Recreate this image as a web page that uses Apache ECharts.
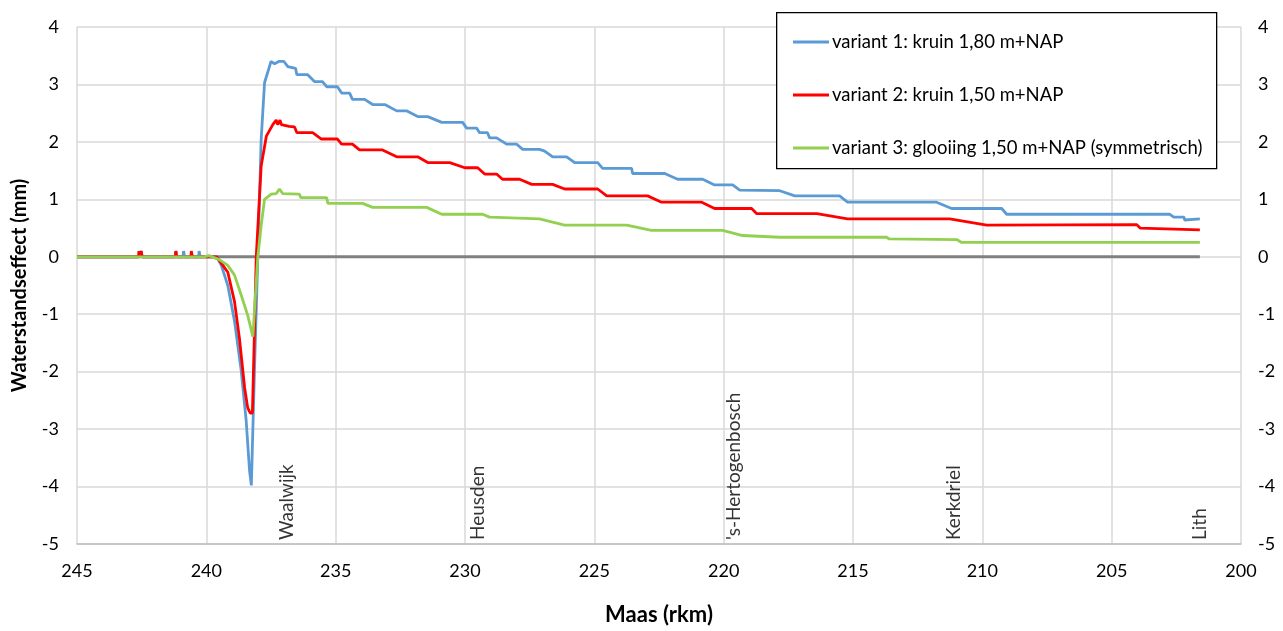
<!DOCTYPE html>
<html>
<head>
<meta charset="utf-8">
<script src="https://cdn.jsdelivr.net/npm/echarts@6/dist/echarts.min.js"></script>
<style>
html,body{margin:0;padding:0;background:#fff;}
#chart{width:1283px;height:631px;}
</style>
</head>
<body>
<div id="chart"></div>
<script>
// ---- data (rkm, waterstandseffect mm) ----
const seriesNames = [
  'variant 1: kruin 1,80 m+NAP',
  'variant 2: kruin 1,50 m+NAP',
  'variant 3: glooiing 1,50 m+NAP (symmetrisch)'
];
const variant1 = [
  [245,0],[242.62,0],[242.6,0.1],[242.56,0],[242.52,0.1],[242.48,0],
  [241.2,0],[241.18,0.1],[241.14,0],[240.9,0],[240.88,0.1],[240.84,0],[240.3,0],[240.28,0.1],[240.24,0],
  [239.6,0],[239.42,-0.15],[239.17,-0.5],[238.91,-1.12],[238.65,-1.99],[238.46,-2.85],[238.33,-3.72],[238.26,-3.98],
  [238.14,-1.99],[238.01,0],[237.88,2.04],[237.75,3.03],[237.56,3.31],[237.5,3.4],[237.36,3.36],[237.2,3.4],[237.0,3.4],
  [236.85,3.31],[236.78,3.28],[236.55,3.28],[236.5,3.17],[236.08,3.17],[235.82,3.05],[235.51,3.05],
  [235.35,2.96],[234.93,2.96],[234.77,2.85],[234.46,2.85],[234.35,2.74],[233.88,2.74],[233.57,2.65],[233.1,2.65],
  [232.64,2.54],[232.26,2.54],[231.83,2.44],[231.44,2.44],[230.9,2.34],[230.09,2.34],[229.94,2.24],[229.55,2.24],
  [229.44,2.16],[229.13,2.16],[229.05,2.07],[228.78,2.07],[228.39,1.96],[228.0,1.96],[227.77,1.87],[227.12,1.87],[226.92,1.84],
  [226.61,1.74],[226.07,1.74],[225.76,1.64],[224.87,1.64],[224.68,1.54],[223.56,1.54],[223.52,1.45],[222.28,1.45],
  [221.78,1.35],[220.81,1.35],[220.35,1.25],[219.65,1.25],[219.38,1.16],[217.83,1.15],[217.25,1.06],[215.52,1.06],
  [215.21,0.95],[211.77,0.95],[211.19,0.84],[209.25,0.84],[209.06,0.74],[202.75,0.74],[202.6,0.69],[202.2,0.69],[202.18,0.64],[201.59,0.66]
];
const variant2 = [
  [245,0],[242.62,0],[242.6,0.1],[242.56,0],[242.52,0.1],[242.48,0],
  [241.2,0],[241.18,0.1],[241.14,0],[240.6,0],[240.58,0.1],[240.54,0],
  [239.6,0],[239.36,-0.15],[239.17,-0.27],[238.91,-0.78],[238.72,-1.42],[238.52,-2.28],[238.4,-2.63],[238.3,-2.72],[238.22,-2.72],
  [238.2,-2.4],[238.07,0],[237.88,1.58],[237.68,2.1],[237.43,2.3],[237.3,2.38],[237.24,2.3],[237.15,2.38],[237.1,2.3],[236.8,2.27],
  [236.59,2.26],[236.5,2.16],[235.89,2.16],[235.55,2.05],[234.93,2.05],[234.77,1.96],[234.35,1.96],[234.08,1.86],[233.19,1.86],
  [232.64,1.74],[231.83,1.74],[231.44,1.64],[230.59,1.64],[230.01,1.55],[229.51,1.55],[229.24,1.44],[228.78,1.44],
  [228.55,1.35],[227.89,1.35],[227.42,1.26],[226.61,1.26],[226.15,1.18],[224.87,1.18],[224.52,1.06],[222.94,1.06],
  [222.4,0.95],[220.85,0.95],[220.35,0.84],[218.92,0.84],[218.72,0.75],[216.4,0.75],[215.21,0.66],[211.26,0.66],
  [209.83,0.55],[204.03,0.56],[203.9,0.5],[201.59,0.47]
];
const variant3 = [
  [245,0],[240.1,0],[239.9,0.02],[239.5,-0.05],[239.17,-0.15],[238.91,-0.32],[238.65,-0.67],[238.4,-1.02],[238.2,-1.39],
  [238.01,0],[237.88,0.54],[237.75,1.0],[237.49,1.09],[237.3,1.1],[237.17,1.18],[237.05,1.1],[236.4,1.09],[236.35,1.03],
  [235.35,1.03],[235.3,0.93],[233.96,0.93],[233.57,0.86],[231.48,0.86],[230.9,0.74],[229.32,0.74],[229.05,0.69],
  [227.12,0.66],[226.15,0.55],[223.75,0.55],[222.79,0.46],[220.04,0.46],[219.27,0.37],[217.83,0.34],[213.7,0.34],
  [213.6,0.31],[210.99,0.3],[210.8,0.25],[201.59,0.25]
];
const zeroLine = [[245,0],[201.59,0]];
const placeNames = ['Waalwijk','Heusden',"'s-Hertogenbosch",'Kerkdriel','Lith'];
const placeRkm = [236.9,229.5,219.6,211.1,201.6];
const yTicks = {min:-5, max:4, interval:1};
const xTicks = {min:200, max:245, interval:5};

const FONT = 'Lato';
const chart = echarts.init(document.getElementById('chart'), null, {renderer:'canvas'});
const lineSeries = (name, data, color) => ({
  name, type:'line', data, showSymbol:false, symbol:'none',
  lineStyle:{color, width:2.8}, itemStyle:{color}, animation:false, z:3
});
const option = {
  animation:false,
  textStyle:{fontFamily:FONT},
  grid:{left:77, right:42, top:27, bottom:84},
  xAxis:{
    type:'value', inverse:true, min:xTicks.min, max:xTicks.max, interval:xTicks.interval,
    name:'Maas (rkm)', nameLocation:'middle', nameGap:60,
    nameTextStyle:{fontFamily:FONT, fontWeight:'bold', fontSize:22, color:'#000'},
    axisLine:{onZero:false, lineStyle:{color:'#bfbfbf', width:1.5}},
    axisTick:{show:false},
    axisLabel:{fontFamily:FONT, fontSize:18, color:'#000', margin:18},
    splitLine:{show:true, lineStyle:{color:'#d9d9d9', width:1.5}}
  },
  yAxis:[{
    type:'value', min:yTicks.min, max:yTicks.max, interval:yTicks.interval, position:'left',
    name:'Waterstandseffect (mm)', nameLocation:'middle', nameGap:47, nameRotate:90,
    nameTextStyle:{fontFamily:FONT, fontWeight:'bold', fontSize:20, color:'#000'},
    axisLine:{show:false, onZero:false}, axisTick:{show:false},
    axisLabel:{fontFamily:FONT, fontSize:18, color:'#000', margin:18},
    splitLine:{show:true, lineStyle:{color:'#d9d9d9', width:1.5}}
  },{
    type:'value', min:yTicks.min, max:yTicks.max, interval:yTicks.interval, position:'right',
    axisLine:{show:false, onZero:false}, axisTick:{show:false},
    axisLabel:{fontFamily:FONT, fontSize:18, color:'#000', margin:17},
    splitLine:{show:false}
  }],
  legend:{
    data:seriesNames, orient:'vertical', left:788, top:27, z:200,
    icon:'rect', itemWidth:36, itemHeight:3, itemGap:33,
    textStyle:{fontFamily:FONT, fontSize:18.5, color:'#000', lineHeight:20, padding:[0,0,0,-2]},
    selectedMode:false
  },
  graphic:[{
    type:'rect', left:776, top:12, z:100,
    shape:{width:440, height:156},
    style:{fill:'#fff', stroke:'#000', lineWidth:1.3}
  }],
  series:[
    {name:'zero', type:'line', data:zeroLine, showSymbol:false, symbol:'none',
     lineStyle:{color:'#808080', width:3}, z:2, animation:false},
    lineSeries(seriesNames[0], variant1, '#5b9bd5'),
    lineSeries(seriesNames[1], variant2, '#ff0000'),
    lineSeries(seriesNames[2], variant3, '#92d050'),
    {name:'places', type:'scatter', symbolSize:0, z:5, animation:false,
     data:placeRkm.map((x,i)=>({name:placeNames[i], value:[x, yTicks.min]})),
     label:{show:true, formatter:'{b}', position:'top', distance:4, rotate:90,
            align:'left', verticalAlign:'middle', fontFamily:FONT, fontSize:19, color:'#000'}}
  ]
};
chart.setOption(option);
</script>
</body>
</html>
